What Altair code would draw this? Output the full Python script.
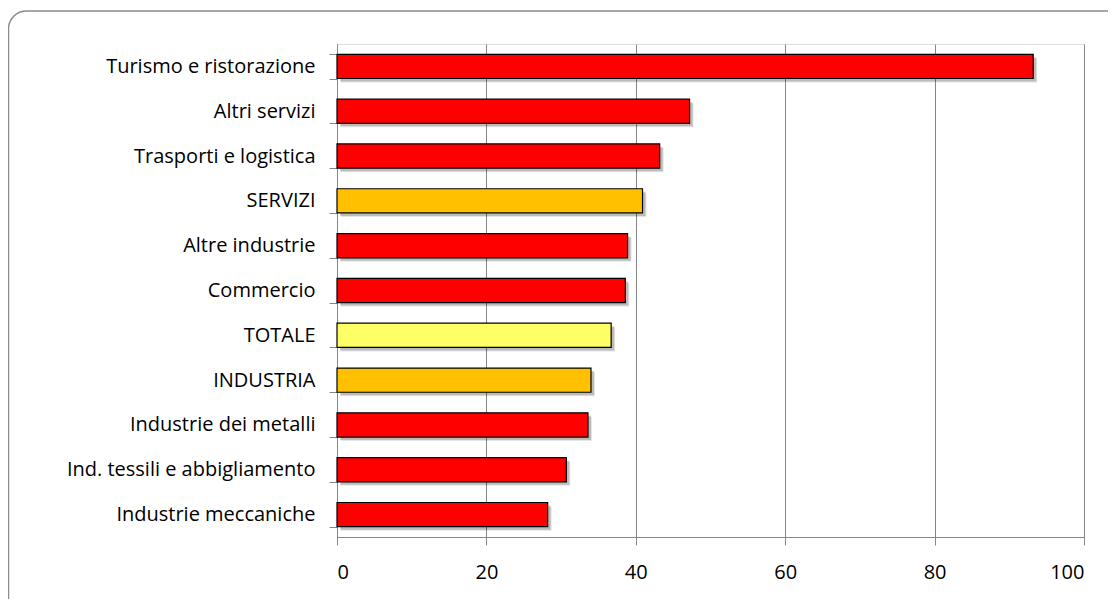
import altair as alt
import pandas as pd

categories = ["Turismo e ristorazione", "Altri servizi", "Trasporti e logistica", "SERVIZI",
              "Altre industrie", "Commercio", "TOTALE", "INDUSTRIA", "Industrie dei metalli",
              "Ind. tessili e abbigliamento", "Industrie meccaniche"]
values = [93.2, 47.2, 43.2, 40.9, 38.9, 38.6, 36.7, 34.0, 33.6, 30.7, 28.2]
groups = ["settore", "settore", "settore", "macro", "settore", "settore", "totale", "macro",
          "settore", "settore", "settore"]
x_ticks = [0, 20, 40, 60, 80, 100]

df = pd.DataFrame({"cat": categories, "val": values, "grp": groups})

FONT = "Open Sans"
FS = 20
y_scale = alt.Scale(paddingInner=0.46, paddingOuter=0.23)
y_enc = alt.Y("cat:N", sort=categories, title=None, scale=y_scale)
x_enc = alt.X("val:Q", title=None, scale=alt.Scale(domain=[0, 100], nice=False),
              axis=alt.Axis(values=x_ticks, grid=True, gridColor="#868686", gridWidth=1,
                            domainColor="#868686", tickColor="#868686", tickSize=8,
                            labelPadding=17, labelFontSize=FS, labelFont=FONT,
                            labelColor="#000000"))

shadow = alt.Chart(df).mark_bar(color="#000000", opacity=0.18, xOffset=3, x2Offset=3,
                                yOffset=3, y2Offset=3).encode(x=x_enc, y=y_enc)
shadow2 = alt.Chart(df).mark_bar(color="#000000", opacity=0.10, xOffset=4, x2Offset=5,
                                 yOffset=4, y2Offset=5).encode(x=x_enc, y=y_enc)

bars = alt.Chart(df).mark_bar(stroke="#000000", strokeWidth=1.2).encode(
    x=x_enc,
    y=alt.Y("cat:N", sort=categories, title=None, scale=y_scale,
            axis=alt.Axis(tickBand="extent", domainColor="#868686", tickColor="#868686",
                          tickSize=8, labelPadding=14, labelFontSize=FS, labelFont=FONT,
                          labelColor="#000000", labelLimit=400, grid=False)),
    color=alt.Color("grp:N", legend=None,
                    scale=alt.Scale(domain=["settore", "macro", "totale"],
                                    range=["#ff0000", "#ffc000", "#ffff66"])),
)

border = alt.Chart(pd.DataFrame({"a": [0]})).mark_rect(
    fill=None, stroke="#8c8c8c", strokeWidth=1.5, cornerRadius=18, clip=False
).encode(x=alt.value(-328.5), x2=alt.value(800), y=alt.value(-33), y2=alt.value(600))

chart = alt.layer(border, shadow2, shadow, bars).properties(
    width=747, height=493,
    padding={"left": 329, "top": 36, "right": 24, "bottom": 62},
    autosize=alt.AutoSizeParams(type="none"),
).configure_view(fill="#f2f2f2", stroke=None).configure(background="#ffffff")

chart.save("out.html", embed_options={"renderer": "svg", "actions": False})
